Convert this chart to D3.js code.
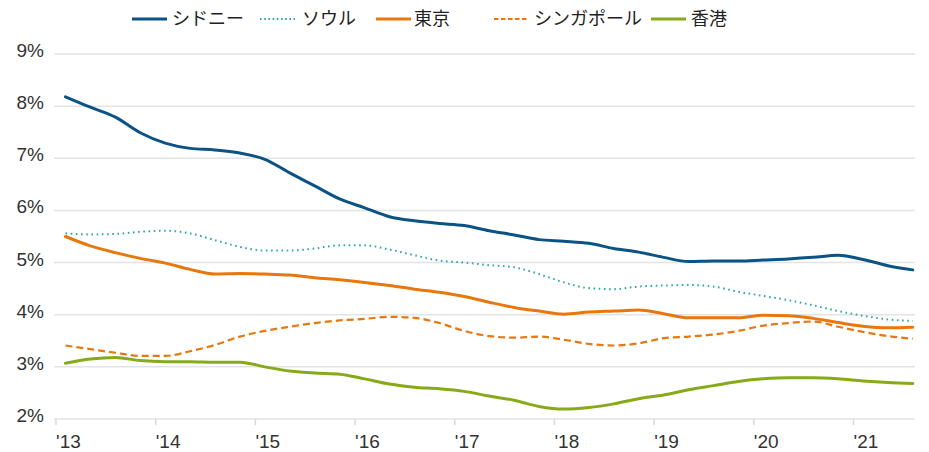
<!DOCTYPE html>
<html>
<head>
<meta charset="utf-8">
<script src="https://cdn.jsdelivr.net/npm/d3@7/dist/d3.min.js"></script>
<style>
  html, body { margin: 0; padding: 0; background: #fff; }
  svg { display: block; }
  .tick-label { font-family: "Liberation Sans", Arial, sans-serif; font-size: 19px; fill: #333; }
  .legend-label { font-family: "Noto Sans CJK JP", sans-serif; font-size: 18px; fill: #222; }
</style>
</head>
<body>
<svg id="chart" width="929" height="452"></svg>
<script>
// Quarterly periods, 2013 Q1 through 2021 Q3
const quarters = [
  "2013Q1","2013Q2","2013Q3","2013Q4",
  "2014Q1","2014Q2","2014Q3","2014Q4",
  "2015Q1","2015Q2","2015Q3","2015Q4",
  "2016Q1","2016Q2","2016Q3","2016Q4",
  "2017Q1","2017Q2","2017Q3","2017Q4",
  "2018Q1","2018Q2","2018Q3","2018Q4",
  "2019Q1","2019Q2","2019Q3","2019Q4",
  "2020Q1","2020Q2","2020Q3","2020Q4",
  "2021Q1","2021Q2","2021Q3"
];

// Yields (%) per city
const sydney = [8.18,7.98,7.79,7.49,7.29,7.19,7.16,7.10,6.98,6.72,6.47,6.22,
                6.05,5.88,5.80,5.75,5.71,5.61,5.53,5.44,5.41,5.37,5.27,5.20,
                5.10,5.02,5.03,5.03,5.05,5.07,5.10,5.14,5.06,4.94,4.86];
const seoul  = [5.56,5.54,5.55,5.59,5.61,5.56,5.43,5.30,5.23,5.23,5.27,5.33,
                5.33,5.25,5.14,5.04,5.00,4.95,4.91,4.78,4.62,4.51,4.49,4.54,
                4.56,4.57,4.54,4.44,4.36,4.28,4.18,4.07,3.98,3.91,3.88];
const tokyo  = [5.50,5.32,5.19,5.08,4.99,4.87,4.78,4.79,4.78,4.76,4.71,4.67,
                4.62,4.56,4.49,4.43,4.35,4.24,4.14,4.07,4.01,4.05,4.07,4.09,
                4.02,3.94,3.94,3.94,3.99,3.98,3.93,3.85,3.78,3.75,3.76];
const singapore = [3.41,3.34,3.27,3.21,3.21,3.30,3.42,3.58,3.69,3.77,3.84,3.89,
                   3.92,3.96,3.94,3.84,3.69,3.59,3.56,3.58,3.52,3.44,3.41,3.45,
                   3.55,3.58,3.62,3.69,3.79,3.84,3.87,3.77,3.67,3.59,3.54];
const hongkong = [3.07,3.15,3.18,3.12,3.10,3.10,3.09,3.09,3.00,2.92,2.88,2.86,
                  2.77,2.67,2.61,2.58,2.53,2.44,2.36,2.24,2.19,2.22,2.29,2.39,
                  2.46,2.56,2.64,2.72,2.77,2.79,2.79,2.77,2.73,2.70,2.68];

const seriesNames = ["シドニー", "ソウル", "東京", "シンガポール", "香港"];
const yTicks = [2, 3, 4, 5, 6, 7, 8, 9];
const xTickYears = [2013, 2014, 2015, 2016, 2017, 2018, 2019, 2020, 2021];

const series = [
  { name: seriesNames[0], values: sydney,    color: "#0b5384", width: 3,   dash: null },
  { name: seriesNames[1], values: seoul,     color: "#2aa9ad", width: 2,   dash: "1.6,3.6" },
  { name: seriesNames[2], values: tokyo,     color: "#e8770e", width: 3,   dash: null },
  { name: seriesNames[3], values: singapore, color: "#e8770e", width: 2.2, dash: "7,4" },
  { name: seriesNames[4], values: hongkong,  color: "#86aa18", width: 3,   dash: null }
];

const svg = d3.select("#chart");
const plot = { left: 54, right: 915, top: 54, bottom: 419 };

// Time position of each quarter (in fractional years)
const qTime = q => +q.slice(0, 4) + (+q.slice(5) - 1) * 0.25 + 0.1;

const x = d3.scaleLinear().domain([2013, 2021]).range([55.5, 853]);
const y = d3.scaleLinear().domain([2, 9]).range([plot.bottom, plot.top]);

// Horizontal gridlines
svg.append("g")
  .selectAll("line")
  .data(yTicks)
  .join("line")
  .attr("x1", plot.left).attr("x2", plot.right)
  .attr("y1", d => y(d)).attr("y2", d => y(d))
  .attr("stroke", "#e3e3e3")
  .attr("stroke-width", 1.5);

// Y axis labels
svg.append("g")
  .selectAll("text")
  .data(yTicks)
  .join("text")
  .attr("class", "tick-label")
  .attr("x", 44)
  .attr("y", d => y(d) + 3)
  .attr("text-anchor", "end")
  .text(d => d + "%");

// X axis ticks and labels
const xAxis = d3.axisBottom(x)
  .tickValues(xTickYears)
  .tickSize(6)
  .tickFormat(d => "'" + String(d).slice(2));
const gx = svg.append("g")
  .attr("transform", `translate(0,${plot.bottom})`)
  .call(xAxis);
gx.select(".domain").remove();
gx.selectAll(".tick line").attr("stroke", "#d8d8d8").attr("stroke-width", 1.5);
gx.selectAll(".tick text")
  .attr("class", "tick-label")
  .attr("text-anchor", "start")
  .attr("x", 0)
  .attr("y", 0)
  .attr("dy", null)
  .attr("transform", "translate(0,29)");

// Lines
const line = d3.line()
  .x((d, i) => x(qTime(quarters[i])))
  .y(d => y(d))
  .curve(d3.curveMonotoneX);

svg.append("g")
  .selectAll("path")
  .data(series)
  .join("path")
  .attr("fill", "none")
  .attr("stroke", d => d.color)
  .attr("stroke-width", d => d.width)
  .attr("stroke-dasharray", d => d.dash)
  .attr("stroke-linejoin", "round")
  .attr("stroke-linecap", d => d.dash ? "butt" : "round")
  .attr("d", d => line(d.values));

// Legend
const legendX = [132, 260, 376, 494, 651];
const legend = svg.append("g").attr("transform", "translate(0,19)");
const items = legend.selectAll("g")
  .data(series)
  .join("g")
  .attr("transform", (d, i) => `translate(${legendX[i]},0)`);
items.append("line")
  .attr("x1", 0).attr("x2", 35)
  .attr("y1", 0).attr("y2", 0)
  .attr("stroke", d => d.color)
  .attr("stroke-width", d => d.width)
  .attr("stroke-dasharray", d => d.dash ? (d.dash === "7,4" ? "4.5,2.5" : "1.6,2.6") : null);
items.append("text")
  .attr("class", "legend-label")
  .attr("x", (d, i) => i === 1 ? 42 : (i === 2 ? 38 : 40))
  .attr("y", 0)
  .attr("dy", "0.35em")
  .text(d => d.name);
</script>
</body>
</html>
